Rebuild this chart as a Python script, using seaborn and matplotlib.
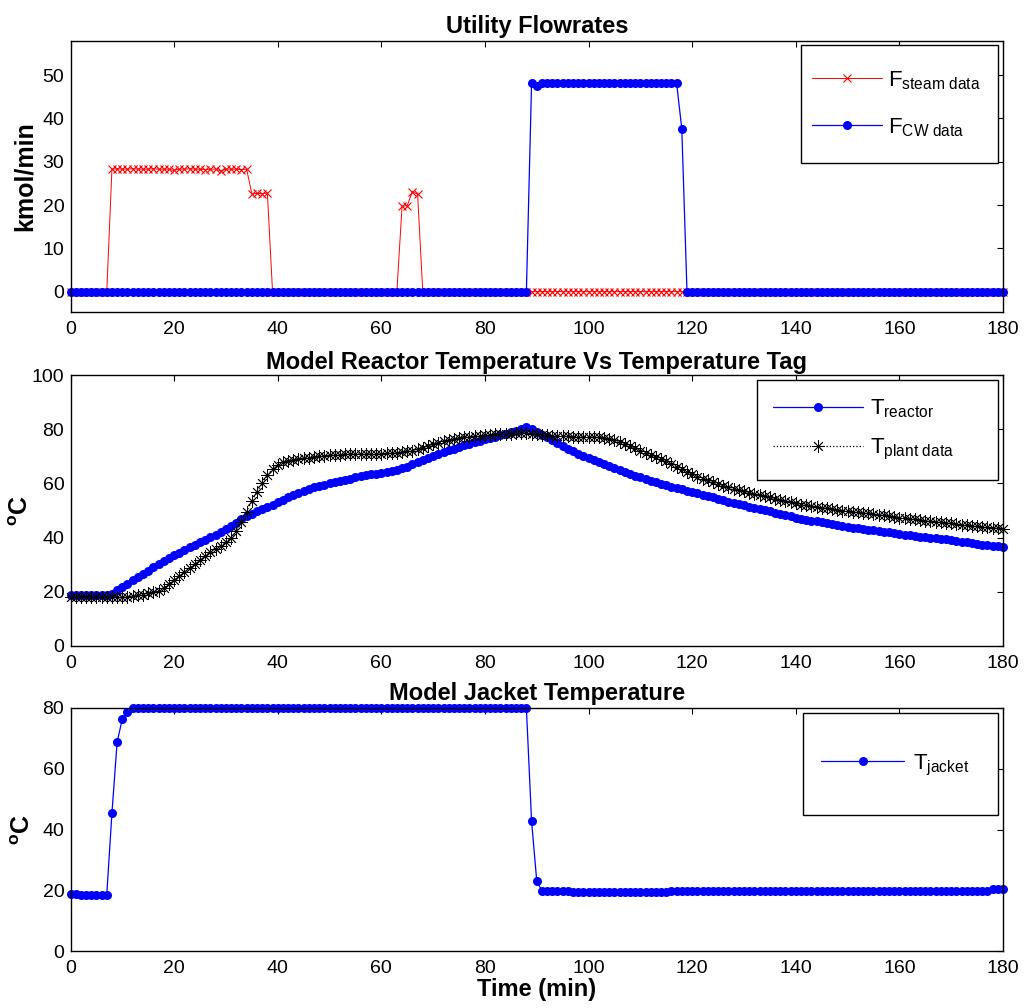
import matplotlib
matplotlib.use("Agg")
import matplotlib.pyplot as plt
from matplotlib.patches import Rectangle
import seaborn as sns

# ---------------- data ----------------
time_min = list(range(181))
x_ticks = [0, 20, 40, 60, 80, 100, 120, 140, 160, 180]

f_steam = ([0.0] * 8
           + [28.3, 28.4, 28.3, 28.3, 28.4, 28.3, 28.3, 28.3, 28.4, 28.3,
              28.3, 28.3, 28.0, 28.3, 28.3, 28.4, 28.3, 28.3, 28.2, 28.3,
              28.3, 27.9, 28.3, 28.3, 28.3, 28.2, 28.3]
           + [22.6, 22.7, 22.6, 22.8]
           + [0.0] * 25
           + [19.7, 19.9, 23.1, 22.5]
           + [0.0] * 113)

f_cw = ([0.0] * 89
        + [48.1, 47.6]
        + [48.1] * 27
        + [37.6]
        + [0.0] * 62)

t_reactor = [
    18.7, 18.7, 18.7, 18.7, 18.7, 18.7, 18.7, 18.7, 19.3, 20.5,
    21.8, 23.0, 24.2, 25.4, 26.6, 27.8, 29.0, 30.1, 31.2, 32.3,
    33.4, 34.4, 35.4, 36.4, 37.4, 38.3, 39.2, 40.1, 41.0, 42.0,
    43.0, 44.2, 45.5, 46.7, 47.8, 48.8, 49.8, 50.6, 51.4, 52.2,
    53.0, 54.0, 55.0, 55.8, 56.5, 57.3, 58.0, 58.5, 59.0, 59.5,
    60.0, 60.5, 61.0, 61.4, 61.8, 62.2, 62.6, 63.0, 63.3, 63.5,
    63.8, 64.1, 64.5, 64.9, 65.5, 66.2, 67.0, 67.8, 68.5, 69.3,
    70.0, 70.8, 71.5, 72.2, 72.8, 73.4, 74.0, 74.6, 75.2, 75.7,
    76.2, 76.7, 77.2, 77.8, 78.3, 78.9, 79.5, 80.2, 80.7, 80.2,
    79.0, 77.8, 77.0, 76.0, 75.0, 73.8, 72.8, 71.9, 71.0, 70.1,
    69.3, 68.5, 67.8, 67.1, 66.4, 65.7, 65.0, 64.3, 63.6, 62.9,
    62.3, 61.6, 61.0, 60.4, 59.8, 59.3, 58.8, 58.3, 57.8, 57.3,
    56.8, 56.3, 55.8, 55.3, 54.8, 54.3, 53.8, 53.3, 52.8, 52.3,
    51.9, 51.4, 51.0, 50.6, 50.2, 49.7, 49.2, 48.7, 48.2, 47.8,
    47.4, 47.0, 46.6, 46.3, 46.0, 45.6, 45.3, 45.0, 44.6, 44.3,
    44.0, 43.7, 43.4, 43.1, 42.9, 42.7, 42.4, 42.1, 41.9, 41.6,
    41.4, 41.1, 40.9, 40.6, 40.4, 40.2, 40.0, 39.8, 39.6, 39.3,
    39.0, 38.7, 38.4, 38.2, 37.9, 37.7, 37.4, 37.2, 37.0, 36.8,
    36.6]

t_plant = [
    18.2, 18.0, 18.1, 18.0, 18.0, 17.9, 18.0, 18.1, 18.0, 18.0,
    18.1, 18.2, 18.4, 18.7, 19.0, 19.4, 19.9, 20.4, 21.5, 23.0,
    24.3, 25.8, 27.3, 28.7, 30.2, 31.8, 33.3, 34.7, 35.9, 37.0,
    38.2, 40.0, 42.5, 45.8, 49.6, 53.5, 57.0, 60.0, 63.0, 65.3,
    66.8, 67.8, 68.4, 68.8, 69.0, 69.3, 69.5, 69.8, 70.0, 70.2,
    70.4, 70.5, 70.6, 70.8, 70.9, 71.0, 71.0, 71.0, 71.0, 71.0,
    71.0, 71.1, 71.2, 71.3, 71.5, 71.8, 72.1, 72.6, 73.2, 73.8,
    74.4, 75.0, 75.5, 76.0, 76.4, 76.8, 77.1, 77.3, 77.5, 77.6,
    77.8, 78.0, 78.1, 78.3, 78.4, 78.4, 78.5, 78.5, 78.5, 78.4,
    78.2, 78.0, 77.8, 77.6, 77.5, 77.4, 77.4, 77.3, 77.3, 77.3,
    77.2, 77.2, 77.1, 76.9, 76.5, 76.0, 75.3, 74.5, 73.7, 72.9,
    72.1, 71.3, 70.5, 69.7, 68.9, 68.1, 67.2, 66.2, 65.2, 64.2,
    63.3, 62.5, 61.8, 61.1, 60.4, 59.8, 59.2, 58.6, 58.1, 57.6,
    57.1, 56.6, 56.1, 55.7, 55.2, 54.8, 54.4, 53.9, 53.5, 53.0,
    52.6, 52.2, 51.9, 51.6, 51.3, 51.1, 50.8, 50.5, 50.3, 50.0,
    49.8, 49.5, 49.3, 49.1, 48.9, 48.7, 48.4, 48.2, 47.9, 47.7,
    47.4, 47.2, 46.9, 46.7, 46.5, 46.3, 46.1, 45.9, 45.7, 45.5,
    45.3, 45.0, 44.8, 44.6, 44.4, 44.2, 44.0, 43.8, 43.6, 43.4,
    43.3]

t_jacket = ([18.8, 18.7] + [18.6] * 6
            + [45.4, 68.8, 76.4, 78.6]
            + [79.9] * 77
            + [42.8, 23.0]
            + [19.8] * 6
            + [19.3] * 19
            + [19.9] * 62
            + [20.5] * 3)

titles = ["Utility Flowrates",
          "Model Reactor Temperature Vs Temperature Tag",
          "Model Jacket Temperature"]
lbl_steam = r"F$_{\mathrm{steam\ data}}$"
lbl_cw = r"F$_{\mathrm{CW\ data}}$"
lbl_reactor = r"T$_{\mathrm{reactor}}$"
lbl_plant = r"T$_{\mathrm{plant\ data}}$"
lbl_jacket = r"T$_{\mathrm{jacket}}$"

# ---------------- style ----------------
sns.set_style("white")
plt.rcParams["font.family"] = ["Liberation Sans", "DejaVu Sans"]
plt.rcParams["mathtext.fontset"] = "custom"
plt.rcParams["mathtext.rm"] = "Liberation Sans"
plt.rcParams["mathtext.it"] = "Liberation Sans:italic"
plt.rcParams["mathtext.bf"] = "Liberation Sans:bold"
plt.rcParams["axes.edgecolor"] = "black"
plt.rcParams["axes.linewidth"] = 1.0
plt.rcParams["text.color"] = "black"
plt.rcParams["axes.labelcolor"] = "black"
plt.rcParams["axes.titlecolor"] = "black"
plt.rcParams["xtick.color"] = "black"
plt.rcParams["ytick.color"] = "black"

W, H = 1025, 1008
fig = plt.figure(figsize=(W / 100, H / 100), dpi=100)
fig.patch.set_facecolor("white")


def px_axes(left, top, right, bottom):
    return fig.add_axes([left / W, 1 - bottom / H, (right - left) / W, (bottom - top) / H])


ax1 = px_axes(70.5, 41, 1003, 312)
ax2 = px_axes(70.5, 375, 1003, 646)
ax3 = px_axes(70.5, 708, 1003, 951)

blue = (0, 0, 1)
red = (1, 0, 0)
dot_ms = 6.5

# top: utility flowrates
sns.lineplot(x=time_min, y=f_steam, ax=ax1, color=red, marker="x", markersize=6,
             markeredgewidth=0.8, markeredgecolor=red, linewidth=0.7,
             label=lbl_steam, clip_on=False)
sns.lineplot(x=time_min, y=f_cw, ax=ax1, color=blue, marker="o", markersize=dot_ms,
             markeredgewidth=0, markeredgecolor=blue, linewidth=0.9,
             label=lbl_cw, clip_on=False)
ax1.set_ylim(-4.7, 57.9)
ax1.set_yticks([0, 10, 20, 30, 40, 50])
ax1.set_ylabel("kmol/min", fontsize=18, fontweight="bold")

# middle: reactor temperature
sns.lineplot(x=time_min, y=t_reactor, ax=ax2, color=blue, marker="o", markersize=dot_ms,
             markeredgewidth=0, markeredgecolor=blue, linewidth=0.9,
             label=lbl_reactor, clip_on=False)
sns.lineplot(x=time_min, y=t_plant, ax=ax2, color="black", marker=(8, 2, 0), markersize=9,
             markeredgewidth=0.6, markeredgecolor="black", linewidth=0.9, linestyle=":",
             label=lbl_plant, clip_on=False)
ax2.set_ylim(0, 100)
ax2.set_yticks([0, 20, 40, 60, 80, 100])
ax2.set_ylabel(r"$^{\mathbf{o}}$C", fontsize=18, fontweight="bold")

# bottom: jacket temperature
sns.lineplot(x=time_min, y=t_jacket, ax=ax3, color=blue, marker="o", markersize=dot_ms,
             markeredgewidth=0, markeredgecolor=blue, linewidth=0.9,
             label=lbl_jacket, clip_on=False)
ax3.set_ylim(0, 80)
ax3.set_yticks([0, 20, 40, 60, 80])
ax3.set_ylabel(r"$^{\mathbf{o}}$C", fontsize=18, fontweight="bold")
ax3.set_xlabel("Time (min)", fontsize=17, fontweight="bold", labelpad=1)

label_x = [(37 - 70.5) / 932, (33 - 70.5) / 932, (35 - 70.5) / 932]
title_pad = [6, 4, 6]
for ax, ttl, lx, tp in zip([ax1, ax2, ax3], titles, label_x, title_pad):
    ax.set_xlim(0, 180)
    ax.set_xticks(x_ticks)
    if ax is not ax3:
        ax.set_xlabel("")
    ax.set_title(ttl, fontsize=17, fontweight="bold", pad=tp, color="black")
    ax.tick_params(axis="both", which="both", direction="in", length=4, width=0.8,
                   top=True, right=True, labelsize=14, colors="black")
    ax.tick_params(axis="x", pad=6.5)
    ax.tick_params(axis="y", pad=4.5)
    ax.yaxis.set_label_coords(lx, 0.5)
    for sp in ax.spines.values():
        sp.set_visible(True)
        sp.set_color("black")
        sp.set_linewidth(1.0)
    ax.set_facecolor("white")

# legends: frame drawn as a rectangle in figure pixels, entries placed inside
legend_specs = [
    (ax1, (801, 45, 998, 163), (812, 104), 3.15, 0.27, 1.1),
    (ax2, (757, 380, 998, 480), (773, 430), 4.05, 0.30, 0.75),
    (ax3, (803, 713, 998, 815), (821, 765), 3.74, 0.40, 0.5),
]
for ax, (x0, y0, x1, y1), (hx, hy), hl, htp, lsp in legend_specs:
    rect = Rectangle((x0 / W, 1 - y1 / H), (x1 - x0) / W, (y1 - y0) / H,
                     transform=fig.transFigure, facecolor="white", edgecolor="black",
                     linewidth=1.0, zorder=4, clip_on=False)
    ax.add_patch(rect)
    handles, labels = ax.get_legend_handles_labels()
    leg = ax.legend(handles, labels, loc="center left", bbox_to_anchor=(hx / W, 1 - hy / H),
                    bbox_transform=fig.transFigure, frameon=False, fontsize=16,
                    borderpad=0, borderaxespad=0, handlelength=hl, handletextpad=htp,
                    labelspacing=lsp, numpoints=1)
    leg.set_zorder(5)

fig.savefig("out.png", dpi=100, facecolor="white")
